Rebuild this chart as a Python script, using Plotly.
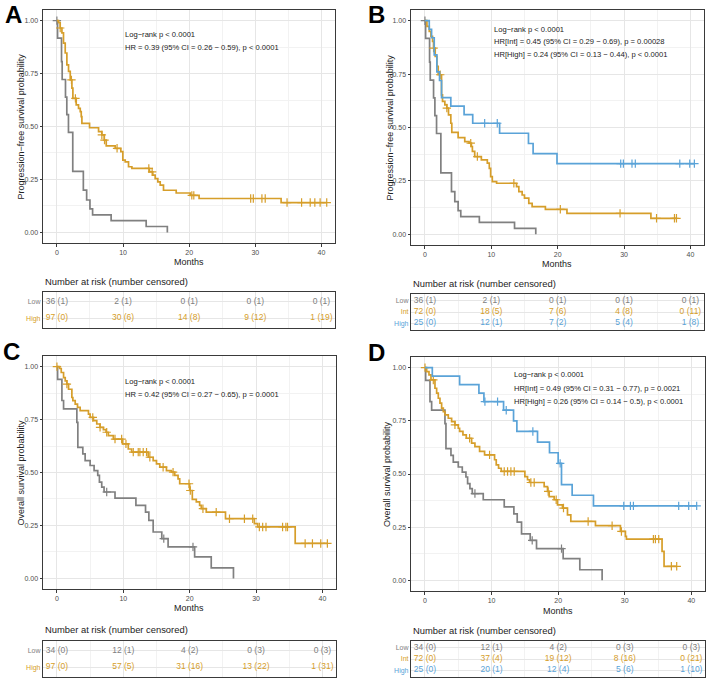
import plotly.graph_objects as go

W, H = 708, 680

GRAY = "#808080"
GOLD = "#D69E2A"
BLUE = "#5AA3D8"

# ---------------- DATA ----------------
# Progression-free survival, Low group (panels A and B)
pfs_low_t = [0, 0.1, 0.7, 0.8, 1.3, 1.5, 1.75, 2.4, 4.0, 4.5, 5.0, 5.4, 8.2, 13.5, 16.7]
pfs_low_s = [1.0, 0.917, 0.806, 0.722, 0.639, 0.556, 0.472, 0.288, 0.20, 0.153, 0.111, 0.083, 0.056, 0.028, 0.0]
pfs_low_cens = [0.0]

# PFS, High group (panel A, two groups)
pfs_high2_t = [0, 0.25, 0.5, 0.76, 1.0, 1.26, 1.51, 1.76, 2.02, 2.27, 2.42, 2.92, 3.27, 3.53, 3.68, 3.78,
               4.94, 6.3, 6.8, 7.15, 7.46, 8.82, 9.67, 9.97, 10.33, 10.83, 11.34, 14.0, 14.5, 14.86,
               15.26, 15.62, 16.12, 18.04, 20.15, 21.5, 33.9, 40.8]
pfs_high2_s = [1.0, 0.99, 0.965, 0.942, 0.894, 0.847, 0.791, 0.76, 0.72, 0.681, 0.633, 0.602, 0.586, 0.57, 0.547, 0.515,
               0.494, 0.476, 0.46, 0.436, 0.409, 0.397, 0.381, 0.341, 0.333, 0.31, 0.302, 0.286, 0.27, 0.254,
               0.239, 0.223, 0.199, 0.186, 0.175, 0.16, 0.141, 0.141]
pfs_high2_cens = [0.5, 2.2, 2.8, 6.8, 7.2, 9.1, 13.9, 14.4, 20.4, 20.7, 29.3, 29.7, 31.0, 31.5, 34.8,
                  37.0, 38.3, 39.0, 39.8, 40.8]

# PFS, Int group (panel B)
pfs_int_t = [0, 0.3, 0.65, 0.9, 1.15, 1.3, 1.55, 1.8, 2.0, 2.5, 2.65, 3.0, 3.3, 3.55, 3.9, 4.05, 5.0, 6.0,
             6.65, 7.0, 7.15, 7.5, 8.5, 9.4, 9.7, 9.9, 10.15, 10.8, 13.8, 14.15, 14.65, 15.0, 15.65, 16.15,
             18.15, 21.4, 34.05, 37.9]
pfs_int_s = [1.0, 0.973, 0.95, 0.927, 0.903, 0.872, 0.833, 0.786, 0.747, 0.653, 0.622, 0.606, 0.591, 0.559, 0.52,
             0.477, 0.453, 0.434, 0.427, 0.411, 0.388, 0.364, 0.348, 0.333, 0.309, 0.27, 0.247, 0.239, 0.223,
             0.2, 0.184, 0.169, 0.145, 0.13, 0.117, 0.098, 0.075, 0.075]
pfs_int_cens = [1.3, 2.3, 3.3, 6.9, 7.9, 13.4, 20.4, 29.4, 34.9, 37.6, 37.9]

# PFS, High group (panel B, three groups)
pfs_high3_t = [0, 0.65, 1.0, 1.4, 1.8, 2.2, 2.5, 3.9, 5.9, 7.2, 11.25, 15.6, 16.3, 19.9, 40.6]
pfs_high3_s = [1.0, 0.96, 0.92, 0.84, 0.76, 0.72, 0.64, 0.60, 0.56, 0.52, 0.473, 0.425, 0.378, 0.331, 0.331]
pfs_high3_cens = [9.0, 10.9, 29.5, 29.9, 31.2, 31.7, 38.4, 39.9, 40.6]

# Overall survival, Low group (panels C and D)
os_low_t = [0, 0.1, 0.75, 1.0, 3.0, 3.15, 3.9, 4.25, 5.0, 5.6, 6.15, 6.4, 6.75, 7.1, 8.75, 11.9, 13.35,
            13.85, 14.5, 15.8, 16.75, 20.75, 23.25, 26.6]
os_low_s = [1.0, 0.94, 0.84, 0.80, 0.737, 0.619, 0.588, 0.556, 0.533, 0.509, 0.486, 0.455, 0.431, 0.408, 0.379,
            0.345, 0.313, 0.274, 0.219, 0.188, 0.149, 0.102, 0.05, 0.0]
os_low_cens = [7.5, 16.1, 20.5]

# OS, High group (panel C)
os_high2_t = [0, 0.4, 0.65, 1.0, 1.25, 1.5, 1.75, 2.25, 2.4, 2.75, 3.1, 3.5, 4.75, 5.0, 5.5, 6.0, 6.5, 7.0,
              7.4, 7.75, 8.5, 9.9, 10.75, 11.25, 13.75, 14.5, 15.0, 15.5, 16.5, 17.25, 17.75, 18.25, 18.5,
              20.0, 20.4, 21.0, 21.5, 21.75, 22.5, 25.4, 29.75, 30.25, 35.9, 40.75]
os_high2_s = [1.0, 0.991, 0.972, 0.948, 0.933, 0.917, 0.893, 0.854, 0.839, 0.823, 0.807, 0.792, 0.776, 0.76,
              0.745, 0.729, 0.713, 0.702, 0.69, 0.674, 0.658, 0.635, 0.611, 0.596, 0.572, 0.556, 0.541, 0.525,
              0.509, 0.502, 0.486, 0.47, 0.447, 0.415, 0.373, 0.361, 0.345, 0.329, 0.313, 0.282, 0.259, 0.243,
              0.165, 0.165]
os_high2_cens = [0.0, 1.5, 5.4, 6.5, 7.5, 8.75, 9.75, 10.4, 11.5, 12.25, 12.5, 13.0, 13.5, 14.0, 16.0, 17.5,
                 19.9, 20.1, 22.0, 24.0, 26.0, 28.25, 29.5, 30.5, 31.0, 31.5, 34.0, 34.5, 34.75, 37.4, 38.5,
                 39.75, 40.75]

# OS, Int group (panel D)
os_int_t = [0, 0.25, 0.6, 0.9, 1.5, 1.75, 2.0, 2.25, 2.5, 2.75, 3.0, 3.5, 4.0, 4.5, 5.0, 5.2, 5.7, 6.2, 7.0,
            7.5, 8.2, 8.95, 10.45, 10.7, 11.05, 11.45, 15.0, 15.4, 15.7, 17.9, 18.4, 18.65, 19.4, 19.9, 20.65,
            21.4, 21.9, 25.6, 29.35, 30.1, 30.25, 35.6, 35.9, 37.8]
os_int_s = [1.0, 0.981, 0.966, 0.942, 0.903, 0.88, 0.856, 0.833, 0.81, 0.793, 0.778, 0.762, 0.746, 0.731,
            0.715, 0.70, 0.684, 0.668, 0.645, 0.629, 0.606, 0.59, 0.567, 0.543, 0.527, 0.512, 0.488, 0.473,
            0.46, 0.441, 0.418, 0.394, 0.379, 0.355, 0.34, 0.308, 0.277, 0.257, 0.23, 0.207, 0.194, 0.136,
            0.066, 0.066]
os_int_cens = [0.0, 1.25, 4.5, 6.7, 9.7, 11.9, 12.4, 12.9, 13.4, 15.9, 16.4, 18.5, 19.7, 20.8, 24.5, 28.1,
               29.5, 34.3, 34.6, 35.1, 37.0, 37.8]

# OS, High group (panel D)
os_high3_t = [0, 1.1, 5.2, 8.1, 8.85, 11.8, 13.3, 13.8, 16.9, 18.7, 20.0, 20.5, 22.1, 25.3, 40.8]
os_high3_s = [1.0, 0.96, 0.92, 0.88, 0.84, 0.80, 0.75, 0.70, 0.65, 0.60, 0.55, 0.45, 0.40, 0.35, 0.35]
os_high3_cens = [9.0, 10.9, 12.2, 16.2, 20.3, 29.85, 30.85, 31.3, 38.1, 39.6, 40.8]

# Risk tables
risk_times = [0, 10, 20, 30, 40]
A_low_n, A_low_c = [36, 2, 0, 0, 0], [1, 1, 1, 1, 1]
A_high_n, A_high_c = [97, 30, 14, 9, 1], [0, 6, 8, 12, 19]
B_low_n, B_low_c = [36, 2, 0, 0, 0], [1, 1, 1, 1, 1]
B_int_n, B_int_c = [72, 18, 7, 4, 0], [0, 5, 6, 8, 11]
B_high_n, B_high_c = [25, 12, 7, 5, 1], [0, 1, 2, 4, 8]
C_low_n, C_low_c = [34, 12, 4, 0, 0], [0, 1, 2, 3, 3]
C_high_n, C_high_c = [97, 57, 31, 13, 1], [0, 5, 16, 22, 31]
D_low_n, D_low_c = [34, 12, 4, 0, 0], [0, 1, 2, 3, 3]
D_int_n, D_int_c = [72, 37, 19, 8, 0], [0, 4, 12, 16, 21]
D_high_n, D_high_c = [25, 20, 12, 5, 1], [0, 1, 4, 6, 10]

annot_A = ["Log\u2212rank p < 0.0001", "HR = 0.39 (95% CI = 0.26 \u2212 0.59), p < 0.0001"]
annot_B = ["Log\u2212rank p < 0.0001", "HR[Int] = 0.45 (95% CI = 0.29 \u2212 0.69), p = 0.00028",
           "HR[High] = 0.24 (95% CI = 0.13 \u2212 0.44), p < 0.0001"]
annot_C = ["Log\u2212rank p < 0.0001", "HR = 0.42 (95% CI = 0.27 \u2212 0.65), p = 0.0001"]
annot_D = ["Log\u2212rank p < 0.0001", "HR[Int] = 0.49 (95% CI = 0.31 \u2212 0.77), p = 0.0021",
           "HR[High] = 0.26 (95% CI = 0.14 \u2212 0.5), p < 0.0001"]

# ---------------- LAYOUT HELPERS ----------------
FONT = "Liberation Sans, Arial, sans-serif"


def dx(l, r):
    return [l / W, r / W]


def dy(t, b):
    return [1 - b / H, 1 - t / H]


def px(x):
    return x / W


def py(y):
    return 1 - y / H


def surv_at(ts, ss, t):
    val = ss[0]
    for ti, si in zip(ts, ss):
        if ti <= t:
            val = si
    return val


fig = go.Figure()

panels = {
    "A": dict(p=1, t=2, pbox=(43, 335, 10, 243), tbox=(43, 335, 292, 328)),
    "B": dict(p=3, t=4, pbox=(411, 704, 10, 245), tbox=(411, 704, 294, 330)),
    "C": dict(p=5, t=6, pbox=(43, 336, 356, 589), tbox=(43, 336, 641, 677)),
    "D": dict(p=7, t=8, pbox=(411, 705, 357, 591), tbox=(411, 705, 641, 677)),
}

XR = [-2.1, 42.05]
YR = [-0.05, 1.05]


def axname(i, kind):
    return kind + ("" if i == 1 else str(i))


def add_curve(i, ts, ss, cens, color):
    xa = "x" + ("" if i == 1 else str(i))
    ya = "y" + ("" if i == 1 else str(i))
    fig.add_trace(go.Scatter(x=ts, y=ss, mode="lines", line=dict(color=color, width=1.7, shape="hv"),
                             xaxis=xa, yaxis=ya, showlegend=False, hoverinfo="skip"))
    cy = [surv_at(ts, ss, c) for c in cens]
    fig.add_trace(go.Scatter(x=cens, y=cy, mode="markers",
                             marker=dict(symbol="cross-thin", size=6, line=dict(color=color, width=1.2)),
                             xaxis=xa, yaxis=ya, showlegend=False, hoverinfo="skip"))


def add_table(i, rows):
    xa = "x" + ("" if i == 1 else str(i))
    ya = "y" + ("" if i == 1 else str(i))
    k = len(rows)
    for j, (name, n, c, color) in enumerate(rows):
        yv = k - j
        fig.add_trace(go.Scatter(x=risk_times, y=[yv] * len(risk_times), mode="text",
                                 text=[f"{a} ({b})" for a, b in zip(n, c)],
                                 textfont=dict(family=FONT, size=8.5, color=color),
                                 xaxis=xa, yaxis=ya, showlegend=False, hoverinfo="skip"))


add_curve(1, pfs_low_t, pfs_low_s, pfs_low_cens, GRAY)
add_curve(1, pfs_high2_t, pfs_high2_s, pfs_high2_cens, GOLD)
add_curve(3, pfs_low_t, pfs_low_s, pfs_low_cens, GRAY)
add_curve(3, pfs_int_t, pfs_int_s, pfs_int_cens, GOLD)
add_curve(3, pfs_high3_t, pfs_high3_s, pfs_high3_cens, BLUE)
add_curve(5, os_low_t, os_low_s, os_low_cens, GRAY)
add_curve(5, os_high2_t, os_high2_s, os_high2_cens, GOLD)
add_curve(7, os_low_t, os_low_s, os_low_cens, GRAY)
add_curve(7, os_int_t, os_int_s, os_int_cens, GOLD)
add_curve(7, os_high3_t, os_high3_s, os_high3_cens, BLUE)

tables = {
    "A": [("Low", A_low_n, A_low_c, GRAY), ("High", A_high_n, A_high_c, GOLD)],
    "B": [("Low", B_low_n, B_low_c, GRAY), ("Int", B_int_n, B_int_c, GOLD), ("High", B_high_n, B_high_c, BLUE)],
    "C": [("Low", C_low_n, C_low_c, GRAY), ("High", C_high_n, C_high_c, GOLD)],
    "D": [("Low", D_low_n, D_low_c, GRAY), ("Int", D_int_n, D_int_c, GOLD), ("High", D_high_n, D_high_c, BLUE)],
}
for key, rows in tables.items():
    add_table(panels[key]["t"], rows)

layout = dict(width=W, height=H, margin=dict(l=0, r=0, t=0, b=0), paper_bgcolor="white",
              plot_bgcolor="white", font=dict(family=FONT, color="#333333"))

GRID = "#E6E6E6"
MINOR = "#F2F2F2"
LINE = "#3A3A3A"

for key, p in panels.items():
    l, r, t, b = p["pbox"]
    i = p["p"]
    layout[axname(i, "xaxis")] = dict(domain=dx(l, r), range=XR, anchor=axname(i, "y"), tickmode="linear",
                                      tick0=0, dtick=10, showgrid=True, gridcolor=GRID, gridwidth=1,
                                      minor=dict(dtick=5, showgrid=True, gridcolor=MINOR, gridwidth=0.6),
                                      showline=True, mirror=True, linecolor=LINE, linewidth=1,
                                      ticks="outside", ticklen=2.5, tickcolor=LINE, zeroline=False,
                                      tickfont=dict(family=FONT, size=7, color="#4D4D4D"))
    layout[axname(i, "yaxis")] = dict(domain=dy(t, b), range=YR, anchor=axname(i, "x"), tickmode="array",
                                      tickvals=[0, 0.25, 0.5, 0.75, 1.0],
                                      ticktext=["0.00", "0.25", "0.50", "0.75", "1.00"],
                                      showgrid=True, gridcolor=GRID, gridwidth=1,
                                      minor=dict(tickvals=[0.125, 0.375, 0.625, 0.875], showgrid=True,
                                                 gridcolor=MINOR, gridwidth=0.6, ticks=""),
                                      showline=True, mirror=True, linecolor=LINE, linewidth=1,
                                      ticks="outside", ticklen=2.5, tickcolor=LINE, zeroline=False,
                                      tickfont=dict(family=FONT, size=7, color="#4D4D4D"))
    l2, r2, t2, b2 = p["tbox"]
    j = p["t"]
    rows = tables[key]
    k = len(rows)
    layout[axname(j, "xaxis")] = dict(domain=dx(l2, r2), range=XR, anchor=axname(j, "y"), tickmode="linear",
                                      tick0=0, dtick=10, showticklabels=False, showgrid=True, gridcolor=GRID,
                                      minor=dict(dtick=5, showgrid=True, gridcolor=MINOR, gridwidth=0.6),
                                      showline=True, mirror=True, linecolor=LINE, linewidth=1.2,
                                      ticks="", zeroline=False)
    layout[axname(j, "yaxis")] = dict(domain=dy(t2, b2), range=[0.4, k + 0.6], anchor=axname(j, "x"),
                                      tickmode="array", tickvals=[k - m for m in range(k)],
                                      ticktext=[f'<span style="color:{c}">{nm}</span>' for nm, _, _, c in rows],
                                      tickfont=dict(family=FONT, size=7, color="#808080"),
                                      showgrid=True, gridcolor=GRID, showline=True, mirror=True,
                                      linecolor=LINE, linewidth=1.2, ticks="", zeroline=False)

fig.update_layout(**layout)

annotations = []


def txt(x, y, s, size, xanchor="left", family=FONT, **kw):
    annotations.append(dict(x=x, y=y, xref="paper", yref="paper", text=s, showarrow=False,
                            xanchor=xanchor, yanchor="middle", font=dict(family=family, size=size,
                                                                          color=kw.pop("color", "#222222")),
                            **kw))


def stats(i, x0, ys, lines):
    xa = "x" + ("" if i == 1 else str(i))
    ya = "y" + ("" if i == 1 else str(i))
    for yv, s in zip(ys, lines):
        annotations.append(dict(x=x0, y=yv, xref=xa, yref=ya, text=s, showarrow=False, xanchor="left",
                                yanchor="middle", font=dict(family=FONT, size=7.6, color="#222222")))


stats(1, 10, [0.934, 0.873], annot_A)
stats(3, 10.1, [0.958, 0.902, 0.841], annot_B)
stats(5, 10, [0.930, 0.869], annot_C)
stats(7, 13.1, [0.967, 0.901, 0.840], annot_D)

for s, x, y in [("A", 13, 14), ("B", 377, 14), ("C", 11, 351), ("D", 376, 352)]:
    txt(px(x), py(y), f"<b>{s}</b>", 24, xanchor="center", color="#000000")

for s, x, key in [("Progression\u2212free survival probability", 20, "A"),
                  ("Progression\u2212free survival probability", 389, "B"),
                  ("Overall survival probability", 20, "C"),
                  ("Overall survival probability", 387, "D")]:
    t, b = panels[key]["pbox"][2:]
    txt(px(x), py((t + b) / 2), s, 9, xanchor="center", textangle=-90)

for x, y in [(189, 262), (557, 264), (189, 608), (558, 611)]:
    txt(px(x), py(y), "Months", 9, xanchor="center")

for x, y in [(43, 281), (411, 283), (43, 629), (411, 630)]:
    txt(px(x), py(y), "Number at risk (number censored)", 9.4, xanchor="left")

fig.update_layout(annotations=annotations)
fig.write_html("out.html", config={"displayModeBar": False},
               post_script="document.body.style.margin='0';document.body.style.overflow='hidden';")
